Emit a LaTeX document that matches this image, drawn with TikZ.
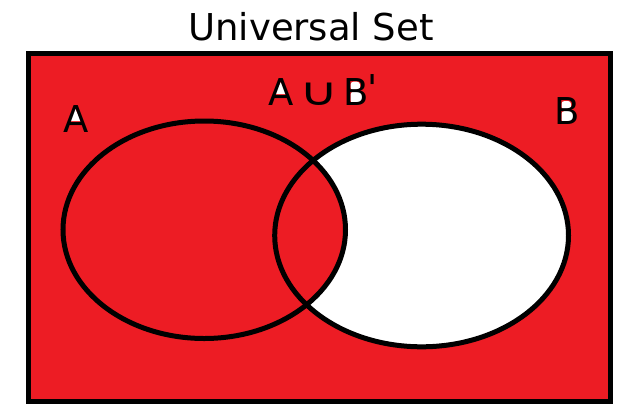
\documentclass[tikz,border=0pt]{standalone}
\usepackage{fontspec}
\setmainfont{DejaVu Sans}
\newfontfamily\primefont{DejaVu Sans}[Ligatures=ResetAll]
\usepackage{graphicx}
\definecolor{paintred}{HTML}{ED1C24}
\tikzset{
  lbl/.style={inner sep=0pt, outer sep=0pt, anchor=base west, text=black,
              font=\fontsize{37}{40}\selectfont},
  counter/.style={fill=white, draw=none},
  setline/.style={draw=black, line width=5pt}
}
\begin{document}
\begin{tikzpicture}[x=1pt,y=-1pt]
\useasboundingbox (0,0) rectangle (639,418);
% universal set
\path[fill=paintred] (28.5,53.5) rectangle (610,401.5);
% set B (white), set A (red)
\fill[white] (421.6,235.5) ellipse [x radius=146.9, y radius=111.3];
\fill[paintred] (204.25,229.75) ellipse [x radius=141.25, y radius=108.75];
\draw[setline] (204.25,229.75) ellipse [x radius=141.25, y radius=108.75];
\draw[setline] (421.6,235.5) ellipse [x radius=146.9, y radius=111.3];
\draw[setline] (28.5,53.5) rectangle (610,401.5);
% title
\node[lbl, anchor=base] (title) at (311,40) {Universal Set};
% counters left white (bucket fill did not reach them)
\fill[counter] (75,108) -- (69,121) -- (81,121) -- cycle;
\fill[counter] (280.8,82) -- (274.8,94) -- (286.8,94) -- cycle;
\fill[counter, rounded corners=3pt] (561.5,101) rectangle (571,109.5);
\fill[counter, rounded corners=3pt] (561.5,111) rectangle (574,122.5);
\fill[counter, rounded corners=3pt] (350.5,81.7) rectangle (360,90.2);
\fill[counter, rounded corners=3pt] (350.5,91.7) rectangle (363,103.2);
% labels
\node[lbl] (labA) at (63,132.7) {A};
\node[lbl] (labB) at (554.4,124.3) {B};
\node[lbl] (labAUB) at (268,105.7) {A\hspace{1.5pt}\makebox[48.2pt][c]{\scalebox{1.45}[1.05]{∪}}B\kern-1pt\raisebox{4pt}{\primefont'}};
\end{tikzpicture}
\end{document}
